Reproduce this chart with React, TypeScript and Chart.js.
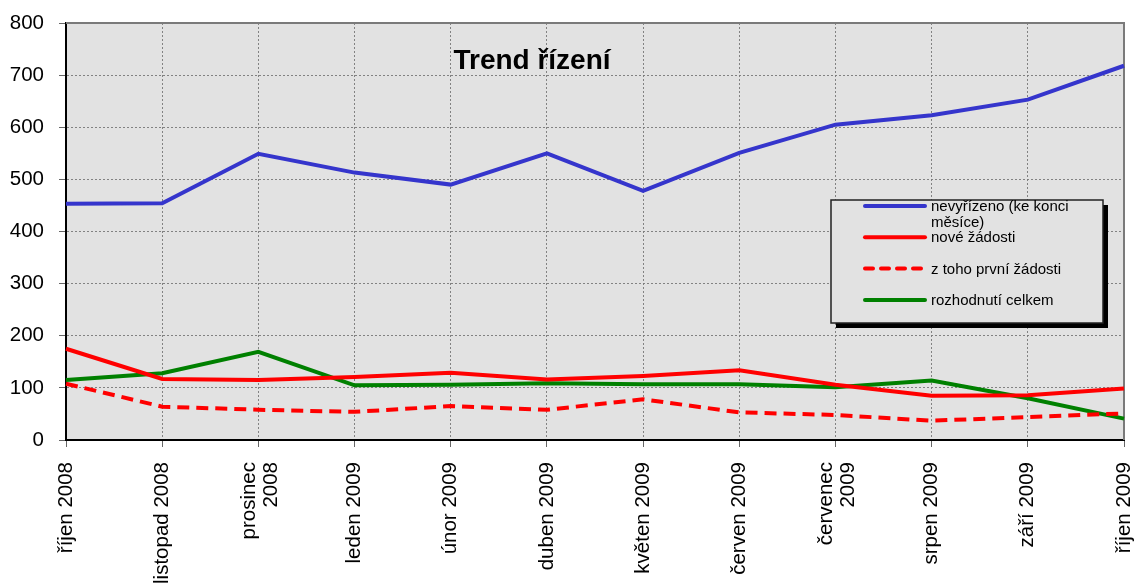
import React, { useEffect, useRef } from "react";
import { Chart, registerables } from "chart.js";

Chart.register(...registerables);

const categories: (string | string[])[] = [
  "říjen 2008",
  "listopad 2008",
  ["prosinec", "2008"],
  "leden 2009",
  "únor 2009",
  "duben 2009",
  "květen 2009",
  "červen 2009",
  ["červenec", "2009"],
  "srpen 2009",
  "září 2009",
  "říjen 2009",
];

const nevyrizeno = [453, 454, 549, 513, 490, 550, 478, 551, 605, 623, 653, 718];
const noveZadosti = [175, 117, 115, 121, 129, 116, 123, 134, 106, 85, 86, 99];
const prvniZadosti = [108, 64, 58, 54, 65, 58, 78, 53, 48, 37, 44, 51];
const rozhodnuti = [115, 128, 169, 105, 106, 109, 107, 107, 101, 114, 80, 41];

const yTicks = [0, 100, 200, 300, 400, 500, 600, 700, 800];

const seriesLabels = [
  "nevyřízeno (ke konci měsíce)",
  "nové žádosti",
  "z toho první žádosti",
  "rozhodnutí celkem",
];

const titleText = "Trend řízení";

const FONT = '"Liberation Sans", Arial, Helvetica, sans-serif';
const PLOT_BG = "#e2e2e2";

function wrapText(ctx: CanvasRenderingContext2D, text: string, maxW: number): string[] {
  const words = text.split(" ");
  const lines: string[] = [];
  let cur = "";
  for (const w of words) {
    const test = cur ? cur + " " + w : w;
    if (ctx.measureText(test).width > maxW && cur) {
      lines.push(cur);
      cur = w;
    } else {
      cur = test;
    }
  }
  if (cur) lines.push(cur);
  return lines;
}

const decorPlugin = {
  id: "decor",
  beforeDraw(chart: any) {
    const { ctx, chartArea } = chart;
    ctx.save();
    ctx.fillStyle = PLOT_BG;
    ctx.fillRect(chartArea.left, chartArea.top, chartArea.right - chartArea.left, chartArea.bottom - chartArea.top);
    ctx.restore();
  },
  beforeDatasetsDraw(chart: any) {
    const { ctx, chartArea } = chart;
    ctx.save();
    ctx.strokeStyle = "#7a7a7a";
    ctx.lineWidth = 2;
    ctx.beginPath();
    ctx.moveTo(chartArea.left, chartArea.top);
    ctx.lineTo(chartArea.right, chartArea.top);
    ctx.lineTo(chartArea.right, chartArea.bottom);
    ctx.stroke();
    ctx.restore();

    // x-axis category labels (rotated, multi-line centred on the tick)
    const xs = chart.scales.x;
    ctx.save();
    ctx.fillStyle = "#000";
    ctx.font = `20.5px ${FONT}`;
    ctx.textAlign = "right";
    ctx.textBaseline = "middle";
    const labels = chart.data.labels as (string | string[])[];
    labels.forEach((lab, i) => {
      const lines = Array.isArray(lab) ? lab : [lab];
      const x = xs.getPixelForTick(i);
      const y = chartArea.bottom + 22;
      lines.forEach((ln, k) => {
        const off = (k - (lines.length - 1) / 2) * 22 + (lines.length > 1 ? 2 : 0);
        ctx.save();
        ctx.translate(x + off, y);
        ctx.rotate(-Math.PI / 2);
        ctx.fillText(ln, 0, 0);
        ctx.restore();
      });
    });
    ctx.restore();
  },
  afterDraw(chart: any) {
    const { ctx } = chart;
    ctx.save();
    // title
    ctx.fillStyle = "#000";
    ctx.font = `bold 28px ${FONT}`;
    ctx.textAlign = "center";
    ctx.textBaseline = "alphabetic";
    ctx.fillText(titleText, 532, 69);

    // legend box
    const bx = 831, by = 200, bw = 272, bh = 123;
    ctx.fillStyle = "#000";
    ctx.fillRect(bx + 5, by + 5, bw, bh);
    ctx.fillStyle = PLOT_BG;
    ctx.fillRect(bx, by, bw, bh);
    ctx.strokeStyle = "#222";
    ctx.lineWidth = 1.5;
    ctx.strokeRect(bx, by, bw, bh);

    ctx.font = `15px ${FONT}`;
    ctx.textAlign = "left";
    ctx.textBaseline = "middle";
    chart.data.datasets.forEach((ds: any, i: number) => {
      const sy = 206 + i * 31.3;
      ctx.save();
      ctx.strokeStyle = ds.borderColor;
      ctx.lineWidth = 4;
      ctx.lineCap = "round";
      ctx.setLineDash(ds.borderDash ? [8, 8] : []);
      ctx.beginPath();
      ctx.moveTo(865, sy);
      ctx.lineTo(925, sy);
      ctx.stroke();
      ctx.restore();
      ctx.fillStyle = "#000";
      const lines = wrapText(ctx, ds.label, 160);
      lines.forEach((ln, k) => ctx.fillText(ln, 931, sy + 1 + k * 16));
    });
    ctx.restore();
  },
};

export default function App() {
  const canvasRef = useRef<HTMLCanvasElement | null>(null);

  useEffect(() => {
    document.body.style.margin = "0";
    const canvas = canvasRef.current;
    if (!canvas) return;
    const chart = new Chart(canvas, {
      type: "line",
      data: {
        labels: categories,
        datasets: [
          {
            label: seriesLabels[0],
            data: nevyrizeno,
            borderColor: "#3535cc",
            borderWidth: 4,
            pointRadius: 0,
            fill: false,
          },
          {
            label: seriesLabels[1],
            data: noveZadosti,
            borderColor: "#ff0000",
            borderWidth: 4,
            pointRadius: 0,
            fill: false,
          },
          {
            label: seriesLabels[2],
            data: prvniZadosti,
            borderColor: "#ff0000",
            borderWidth: 4,
            borderDash: [12, 7],
            pointRadius: 0,
            fill: false,
          },
          {
            label: seriesLabels[3],
            data: rozhodnuti,
            borderColor: "#008000",
            borderWidth: 4,
            pointRadius: 0,
            fill: false,
          },
        ],
      },
      options: {
        animation: false,
        responsive: false,
        maintainAspectRatio: false,
        layout: { padding: { top: 23, right: 14, left: 0, bottom: 0 } },
        plugins: {
          legend: { display: false },
          tooltip: { enabled: false },
          title: { display: false },
        },
        scales: {
          x: {
            type: "category",
            offset: false,
            grid: {
              offset: false,
              color: "rgba(120,120,120,0.9)",
              lineWidth: 1,
              tickLength: 7,
              tickColor: "#666",
            },
            border: { display: true, color: "#000", width: 2, dash: [2, 2] },
            ticks: {
              display: false,
              autoSkip: false,
            },
            afterFit: (scale: any) => {
              scale.height = 148;
              scale.paddingLeft = 0;
              scale.paddingRight = 0;
              scale.paddingTop = 0;
              scale.paddingBottom = 0;
            },
          },
          y: {
            min: 0,
            max: 800,
            afterBuildTicks: (scale: any) => {
              scale.ticks = yTicks.map((v) => ({ value: v }));
            },
            grid: {
              color: "rgba(120,120,120,0.9)",
              lineWidth: 1,
              tickLength: 7,
              tickColor: "#666",
            },
            border: { display: true, color: "#000", width: 2, dash: [2, 2] },
            ticks: {
              padding: 15,
              color: "#000",
              font: { family: FONT, size: 20.5 },
            },
            afterFit: (scale: any) => {
              scale.width = 66;
              scale.paddingLeft = 0;
              scale.paddingRight = 0;
              scale.paddingTop = 0;
              scale.paddingBottom = 0;
            },
          },
        },
      },
      plugins: [decorPlugin],
    });
    return () => chart.destroy();
  }, []);

  return (
    <div style={{ position: "absolute", left: 0, top: 0, width: 1138, height: 588 }}>
      <canvas ref={canvasRef} width={1138} height={588} style={{ width: 1138, height: 588, display: "block" }} />
    </div>
  );
}
